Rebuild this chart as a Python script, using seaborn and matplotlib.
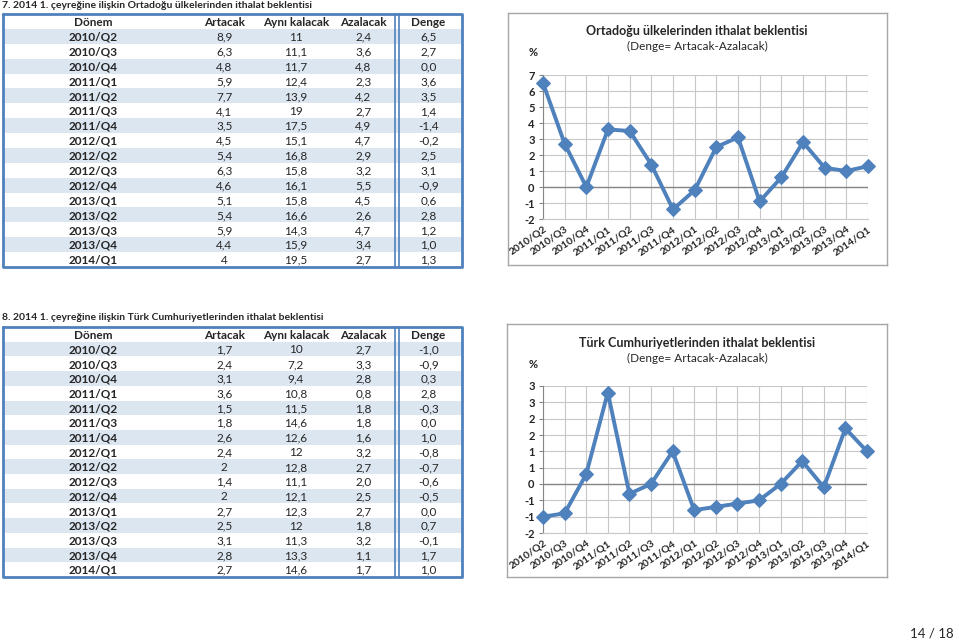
import seaborn as sns
import matplotlib.pyplot as plt
import pandas as pd

# --- DATI ---
donem = ['2010/Q2', '2010/Q3', '2010/Q4', '2011/Q1', '2011/Q2', '2011/Q3', '2011/Q4', '2012/Q1',
         '2012/Q2', '2012/Q3', '2012/Q4', '2013/Q1', '2013/Q2', '2013/Q3', '2013/Q4', '2014/Q1']

orta_artacak = [8.9, 6.3, 4.8, 5.9, 7.7, 4.1, 3.5, 4.5, 5.4, 6.3, 4.6, 5.1, 5.4, 5.9, 4.4, 4]
orta_ayni = [11, 11.1, 11.7, 12.4, 13.9, 19, 17.5, 15.1, 16.8, 15.8, 16.1, 15.8, 16.6, 14.3, 15.9, 19.5]
orta_azalacak = [2.4, 3.6, 4.8, 2.3, 4.2, 2.7, 4.9, 4.7, 2.9, 3.2, 5.5, 4.5, 2.6, 4.7, 3.4, 2.7]
orta_denge = [6.5, 2.7, 0.0, 3.6, 3.5, 1.4, -1.4, -0.2, 2.5, 3.1, -0.9, 0.6, 2.8, 1.2, 1.0, 1.3]

turk_artacak = [1.7, 2.4, 3.1, 3.6, 1.5, 1.8, 2.6, 2.4, 2, 1.4, 2, 2.7, 2.5, 3.1, 2.8, 2.7]
turk_ayni = [10, 7.2, 9.4, 10.8, 11.5, 14.6, 12.6, 12, 12.8, 11.1, 12.1, 12.3, 12, 11.3, 13.3, 14.6]
turk_azalacak = [2.7, 3.3, 2.8, 0.8, 1.8, 1.8, 1.6, 3.2, 2.7, 2.0, 2.5, 2.7, 1.8, 3.2, 1.1, 1.7]
turk_denge = [-1.0, -0.9, 0.3, 2.8, -0.3, 0.0, 1.0, -0.8, -0.7, -0.6, -0.5, 0.0, 0.7, -0.1, 1.7, 1.0]

intestazioni = ['Dönem', 'Artacak', 'Aynı kalacak', 'Azalacak', 'Denge']

orta_yticks = [-2, -1, 0, 1, 2, 3, 4, 5, 6, 7]
orta_ylabels = ['-2', '-1', '0', '1', '2', '3', '4', '5', '6', '7']
turk_yticks = [-1.5, -1.0, -0.5, 0.0, 0.5, 1.0, 1.5, 2.0, 2.5, 3.0]
turk_ylabels = ['-2', '-1', '-1', '0', '1', '1', '2', '2', '3', '3']

# --- STILE ---
sns.set_style('white')
plt.rcParams['font.family'] = ['Lato', 'DejaVu Sans']
BLU = '#4F81BD'
AZZURRO = '#DCE6F1'
W, H = 959, 641


def box(x0, y0, x1, y1):
    """Converte coordinate in pixel (origine in alto) in rettangolo figura."""
    return [x0 / W, 1 - y1 / H, (x1 - x0) / W, (y1 - y0) / H]


def num_generale(v):
    return f'{v:g}'.replace('.', ',')


def num_fisso(v):
    return f'{v:.1f}'.replace('.', ',')


def disegna_tabella(fig, rect, artacak, ayni, azalacak, denge):
    ax = fig.add_axes(rect)
    n = len(donem) + 1
    ax.set_xlim(0, 1)
    ax.set_ylim(n, 0)
    ax.axis('off')
    for i in range(len(donem)):
        if i % 2 == 0:
            ax.axhspan(i + 1, i + 2, color=AZZURRO, lw=0)
    col_x = [0.197, 0.482, 0.638, 0.785, 0.927]
    fs = 8.5
    for c, testo in enumerate(intestazioni):
        ax.text(col_x[c], 0.55, testo, ha='center', va='center', fontsize=fs, fontweight='bold')
    for i, d in enumerate(donem):
        y = i + 1.55
        ax.text(col_x[0], y, d, ha='center', va='center', fontsize=fs, fontweight='bold')
        ax.text(col_x[1], y, num_generale(artacak[i]), ha='center', va='center', fontsize=fs)
        ax.text(col_x[2], y, num_generale(ayni[i]), ha='center', va='center', fontsize=fs)
        ax.text(col_x[3], y, num_fisso(azalacak[i]), ha='center', va='center', fontsize=fs)
        ax.text(col_x[4], y, num_fisso(denge[i]), ha='center', va='center', fontsize=fs)
    # bordi
    ax.plot([0, 1, 1, 0, 0], [0, 0, n, n, 0], color=BLU, lw=2, clip_on=False)
    ax.plot([0.855, 0.855], [0, n], color=BLU, lw=1.2, clip_on=False)
    ax.plot([0.862, 0.862], [0, n], color=BLU, lw=1.2, clip_on=False)
    return ax


def disegna_grafico(fig, frame_rect, rect, valori, yticks, ylabels, titolo, ytitle_px):
    # cornice del grafico
    cornice = fig.add_axes(frame_rect)
    cornice.set_xticks([])
    cornice.set_yticks([])
    for s in cornice.spines.values():
        s.set_color('#A6A6A6')
        s.set_linewidth(1)
    cornice.patch.set_alpha(0)

    ax = fig.add_axes(rect)
    df = pd.DataFrame({'Dönem': donem, 'Denge': valori})
    sns.lineplot(data=df, x='Dönem', y='Denge', ax=ax, sort=False, color=BLU, lw=2.8,
                 marker='D', markersize=7, markeredgecolor=BLU, zorder=3, clip_on=False)
    ax.set_xlim(0, len(donem) - 1)
    ax.set_ylim(yticks[0], yticks[-1])
    ax.set_yticks(yticks)
    ax.set_yticklabels(ylabels, fontsize=8, fontweight='bold')
    ax.set_xticks(range(len(donem)))
    ax.set_xticklabels(donem, rotation=35, ha='right', rotation_mode='anchor',
                       fontsize=7.5, fontweight='bold')
    ax.set_xlabel('')
    ax.set_ylabel('')
    ax.grid(True, color='#C8C8C8', lw=0.8)
    ax.axhline(0, color='#868686', lw=1, zorder=2)
    ax.tick_params(axis='y', length=3, pad=3, left=True, color='#868686')
    ax.tick_params(axis='x', length=0, pad=4)
    for k in ['top', 'right']:
        ax.spines[k].set_visible(False)
    ax.spines['left'].set_color('#868686')
    ax.spines['bottom'].set_color('#C8C8C8')

    cx = 697 / W
    fig.text(cx, 1 - ytitle_px / H, titolo, ha='center', va='center', fontsize=9, fontweight='bold')
    fig.text(cx, 1 - (ytitle_px + 15) / H, '(Denge= Artacak-Azalacak)', ha='center', va='center', fontsize=8.5)
    fig.text(533 / W, 1 - (ytitle_px + 21) / H, '%', ha='center', va='center', fontsize=8, fontweight='bold')


fig = plt.figure(figsize=(9.59, 6.41), dpi=100)

# --- SEZIONE 7 ---
fig.text(2 / W, 1 - 6 / H, '7. 2014 1. çeyreğine ilişkin Ortadoğu ülkelerinden ithalat beklentisi',
         ha='left', va='center', fontsize=7.5, fontweight='bold')
disegna_tabella(fig, box(3, 14, 462, 267), orta_artacak, orta_ayni, orta_azalacak, orta_denge)
disegna_grafico(fig, box(508, 13, 887, 265), box(543, 75, 868, 219), orta_denge,
                orta_yticks, orta_ylabels, 'Ortadoğu ülkelerinden ithalat beklentisi', 31)

# --- SEZIONE 8 ---
fig.text(2 / W, 1 - 318 / H, '8. 2014 1. çeyreğine ilişkin Türk Cumhuriyetlerinden ithalat beklentisi',
         ha='left', va='center', fontsize=7.5, fontweight='bold')
disegna_tabella(fig, box(3, 327, 462, 577), turk_artacak, turk_ayni, turk_azalacak, turk_denge)
disegna_grafico(fig, box(507, 324, 887, 577), box(543, 386, 867, 533), turk_denge,
                turk_yticks, turk_ylabels, 'Türk Cumhuriyetlerinden ithalat beklentisi', 343)

fig.text(954 / W, 1 - 633 / H, '14 / 18', ha='right', va='center', fontsize=9.5)

plt.savefig('out.png', dpi=100)
plt.close(fig)
